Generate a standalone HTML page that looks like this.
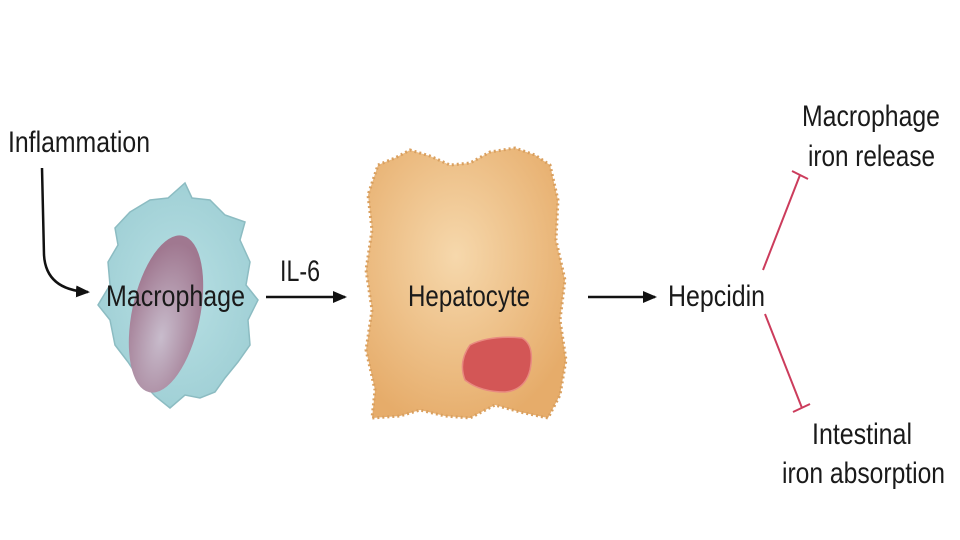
<!DOCTYPE html>
<html><head><meta charset="utf-8"><style>
html,body{margin:0;padding:0;background:#fff;width:960px;height:540px;overflow:hidden}
text{font-family:"Liberation Sans",Arial,sans-serif;fill:#1a1a1a}
</style></head><body>
<svg width="960" height="540" viewBox="0 0 960 540" xmlns="http://www.w3.org/2000/svg">
<defs>
<radialGradient id="mg" cx="50%" cy="50%" r="60%"><stop offset="0" stop-color="#b8e0e4"/><stop offset="1" stop-color="#9ccdd3"/></radialGradient>
<radialGradient id="hg" cx="45%" cy="40%" r="65%"><stop offset="0" stop-color="#f6d8ac"/><stop offset="1" stop-color="#e6ac6a"/></radialGradient>
<radialGradient id="ng" cx="50%" cy="65%" r="60%"><stop offset="0" stop-color="#c8bccc"/><stop offset="1" stop-color="#a07890"/></radialGradient>
<marker id="ah" markerWidth="14" markerHeight="12" refX="12" refY="6" orient="auto" markerUnits="userSpaceOnUse"><path d="M0,0 L14,6 L0,12 Z" fill="#111"/></marker>
</defs>
<text x="8" y="152" font-size="30" textLength="142" lengthAdjust="spacingAndGlyphs">Inflammation</text>
<path d="M42,168 L44,255 Q46,290 88,292" fill="none" stroke="#111" stroke-width="2.5" marker-end="url(#ah)"/>
<path d="M130,212 L150,200 L168,198 L185,183 L192,198 L210,200 L225,215 L245,222 L240,240 L250,262 L246,285 L258,300 L248,320 L250,345 L238,362 L225,378 L215,392 L200,398 L185,395 L170,408 L155,396 L140,380 L128,362 L115,345 L110,320 L98,305 L110,285 L108,262 L118,245 L115,228 Z" fill="url(#mg)" stroke="#8cbcc2" stroke-width="1.5"/>
<ellipse cx="166" cy="314" rx="34" ry="80" transform="rotate(12 166 314)" fill="url(#ng)"/>
<text x="106" y="306" font-size="30" textLength="139" lengthAdjust="spacingAndGlyphs">Macrophage</text>
<text x="280" y="281" font-size="30" textLength="40" lengthAdjust="spacingAndGlyphs">IL-6</text>
<line x1="266" y1="297" x2="345" y2="297" stroke="#111" stroke-width="2.5" marker-end="url(#ah)"/>
<path d="M378,165 L395,158 L410,150 L430,156 L450,165 L470,163 L490,152 L515,148 L535,155 L550,165 L558,200 L556,240 L565,280 L560,320 L566,360 L560,395 L548,418 L520,412 L495,405 L470,418 L445,416 L420,410 L400,416 L372,418 L375,390 L366,350 L372,310 L366,270 L372,230 L368,195 Z" fill="url(#hg)" stroke="#d9a060" stroke-width="3" stroke-dasharray="2 3"/>
<path d="M470,345 Q490,335 522,338 Q535,345 530,370 Q525,390 505,392 Q480,392 465,380 Q458,362 470,345 Z" fill="#d35656" stroke="#e88a80" stroke-width="1.5"/>
<text x="408" y="306" font-size="30" textLength="122" lengthAdjust="spacingAndGlyphs">Hepatocyte</text>
<line x1="588" y1="297" x2="655" y2="297" stroke="#111" stroke-width="2.5" marker-end="url(#ah)"/>
<text x="668" y="306" font-size="30" textLength="97" lengthAdjust="spacingAndGlyphs">Hepcidin</text>
<g stroke="#cc3c5c" stroke-width="2" fill="none">
<line x1="763" y1="270" x2="800" y2="175"/>
<line x1="792" y1="171" x2="808" y2="179"/>
<line x1="765" y1="314" x2="802" y2="408"/>
<line x1="793" y1="412" x2="810" y2="404"/>
</g>
<text x="802" y="126" font-size="30" textLength="138" lengthAdjust="spacingAndGlyphs">Macrophage</text>
<text x="808" y="166" font-size="30" textLength="127" lengthAdjust="spacingAndGlyphs">iron release</text>
<text x="812" y="444" font-size="30" textLength="100" lengthAdjust="spacingAndGlyphs">Intestinal</text>
<text x="782" y="483" font-size="30" textLength="163" lengthAdjust="spacingAndGlyphs">iron absorption</text>
</svg>
</body></html>
